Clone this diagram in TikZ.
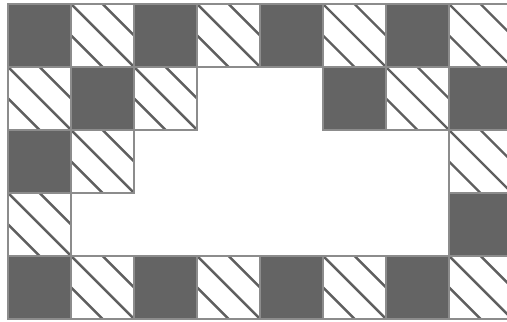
\documentclass[tikz,border=0pt]{standalone}
\usepackage{tikz}

\definecolor{cellfill}{RGB}{100,100,100}
\definecolor{hatchgray}{RGB}{95,95,95}
\definecolor{edgegray}{RGB}{140,140,140}

\begin{document}
\begin{tikzpicture}[
  darkcell/.style={fill=cellfill},
  hatchline/.style={draw=hatchgray, line width=1.1pt, line cap=round},
  celledge/.style={draw=edgegray, line width=0.9pt}
]
\useasboundingbox (-0.127,-0.048) rectangle (7.921,5.063);
\clip (-0.127,-0.048) rectangle (7.921,5.063);

% frame of cells, row 0 on top; the middle is left open
\foreach \r/\cols in {0/{0,...,7}, 1/{0,1,2,5,6,7}, 2/{0,1,7}, 3/{0,7}, 4/{0,...,7}} {
  \foreach \c in \cols {
    \pgfmathtruncatemacro\parity{mod(\r+\c,2)}
    \ifnum\parity=0
      \fill[darkcell] (\c,4-\r) rectangle ++(1,1);
    \else
      \draw[hatchline] (\c,5-\r) -- (\c+1,4-\r);
      \draw[hatchline] (\c+0.5,5-\r) -- (\c+1,4.5-\r);
      \draw[hatchline] (\c,4.5-\r) -- (\c+0.5,4-\r);
    \fi
    \draw[celledge] (\c,4-\r) rectangle ++(1,1);
  }
}
\end{tikzpicture}
\end{document}
